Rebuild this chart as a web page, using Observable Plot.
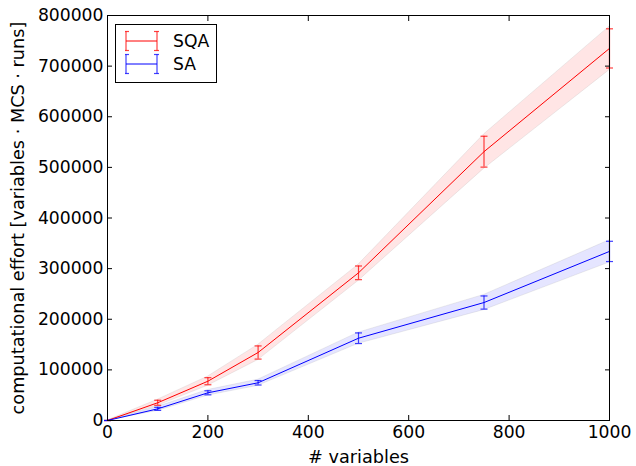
<!DOCTYPE html>
<html><head><meta charset="utf-8">
<script src="https://cdn.jsdelivr.net/npm/d3@7"></script>
<script src="https://cdn.jsdelivr.net/npm/@observablehq/plot@0.6"></script>
<style>
body{margin:0;background:#fff;font-family:"DejaVu Sans",sans-serif;}
#wrap{position:relative;width:636px;height:466px;}
#legend{position:absolute;left:115px;top:24px;width:100px;height:57px;border:1px solid #000;background:#fff;font-size:17.2px;}
.row{position:absolute;left:0;height:22px;display:flex;align-items:center;}
.row span{position:absolute;left:57px;}
.row svg{position:absolute;left:9px;}
</style></head><body><div id="wrap"></div>
<script>
// data
const xs = [0, 100, 200, 300, 500, 750, 1000];
const sqaMean = [0, 35000, 77600, 134300, 291700, 531000, 735000];
const sqaErr  = [0, 5000, 7000, 13000, 13500, 30500, 38700];
const sqaBand = [0, 6000, 9000, 15000, 16000, 34000, 43000];
const saMean  = [0, 23000, 54700, 74500, 162500, 233000, 334000];
const saErr   = [0, 3000, 4000, 4400, 10500, 13000, 20000];
const saBand  = [0, 4000, 5500, 6000, 11000, 15000, 22000];
const xTicks = [0, 200, 400, 600, 800, 1000];
const yTicks = [0, 100000, 200000, 300000, 400000, 500000, 600000, 700000, 800000];
const seriesNames = ["SQA", "SA"];
const seriesColors = ["#ff0000", "#0000ff"];

const series = [
  {name: seriesNames[0], color: seriesColors[0], mean: sqaMean, err: sqaErr, band: sqaBand},
  {name: seriesNames[1], color: seriesColors[1], mean: saMean, err: saErr, band: saBand}
];
const tables = series.map(s => xs.map((x, i) => ({
  x, y: s.mean[i],
  eLo: s.mean[i] - s.err[i], eHi: s.mean[i] + s.err[i],
  bLo: s.mean[i] - s.band[i], bHi: s.mean[i] + s.band[i]
})));

const cap = {draw(ctx, size) { const r = Math.sqrt(size / Math.PI); ctx.moveTo(-r, 0); ctx.lineTo(r, 0); }};

const marks = [];
series.forEach((s, k) => {
  marks.push(Plot.areaY(tables[k], {x: "x", y1: "bLo", y2: "bHi", fill: s.color, fillOpacity: 0.1, stroke: "#888", strokeOpacity: 0.15, strokeWidth: 1}));
});
series.forEach((s, k) => {
  marks.push(Plot.line(tables[k], {x: "x", y: "y", stroke: s.color, strokeWidth: 1}));
  marks.push(Plot.ruleX(tables[k], {x: "x", y1: "eLo", y2: "eHi", stroke: s.color, strokeOpacity: 0.75, strokeWidth: 1.2}));
  marks.push(Plot.dot(tables[k], {x: "x", y: "eHi", symbol: cap, r: 3.5, stroke: s.color, strokeOpacity: 0.75, strokeWidth: 1.2}));
  marks.push(Plot.dot(tables[k], {x: "x", y: "eLo", symbol: cap, r: 3.5, stroke: s.color, strokeOpacity: 0.75, strokeWidth: 1.2}));
});

const fs = 17.2, lfs = 17.7;
marks.push(
  Plot.axisX({anchor: "bottom", ticks: xTicks, tickSize: -5, tickPadding: 10, tickFormat: "d", fontSize: fs, label: null}),
  Plot.axisX({anchor: "bottom", ticks: [], label: "# variables", labelAnchor: "center", labelArrow: "none", labelOffset: 42, fontSize: lfs}),
  Plot.axisX({anchor: "top", ticks: xTicks, tickSize: -5, tickFormat: () => "", label: null}),
  Plot.axisY({anchor: "left", ticks: yTicks, tickSize: -5, tickPadding: 9, tickFormat: "d", fontSize: fs, label: null}),
  Plot.axisY({anchor: "left", ticks: [], label: "computational effort [variables · MCS · runs]", labelAnchor: "center", labelArrow: "none", labelOffset: 96, fontSize: lfs}),
  Plot.axisY({anchor: "right", ticks: yTicks, tickSize: -5, tickFormat: () => "", label: null}),
  Plot.frame({stroke: "#000", strokeWidth: 1})
);

const chart = Plot.plot({
  width: 636, height: 466,
  marginLeft: 107, marginRight: 27, marginTop: 15, marginBottom: 46,
  x: {domain: [0, 1000]},
  y: {domain: [0, 800000]},
  style: {fontFamily: "DejaVu Sans, sans-serif", fontSize: fs + "px", color: "#000", background: "#fff"},
  marks
});
const wrap = document.getElementById("wrap");
wrap.appendChild(chart);

// legend
const legend = document.createElement("div");
legend.id = "legend";
series.forEach((s, k) => {
  const row = document.createElement("div");
  row.className = "row";
  row.style.top = (5 + k * 23) + "px";
  row.innerHTML = `<svg width="34" height="22" viewBox="0 0 34 22">
    <line x1="1" y1="11" x2="32" y2="11" stroke="${s.color}" stroke-width="1"/>
    <g stroke="${s.color}" stroke-opacity="0.75" stroke-width="1.2">
      <line x1="1" y1="1.5" x2="1" y2="20.5"/><line x1="-2" y1="1.5" x2="4" y2="1.5"/><line x1="-2" y1="20.5" x2="4" y2="20.5"/>
      <line x1="32" y1="1.5" x2="32" y2="20.5"/><line x1="29" y1="1.5" x2="35" y2="1.5"/><line x1="29" y1="20.5" x2="35" y2="20.5"/>
    </g></svg><span>${s.name}</span>`;
  legend.appendChild(row);
});
wrap.appendChild(legend);
</script></body></html>
